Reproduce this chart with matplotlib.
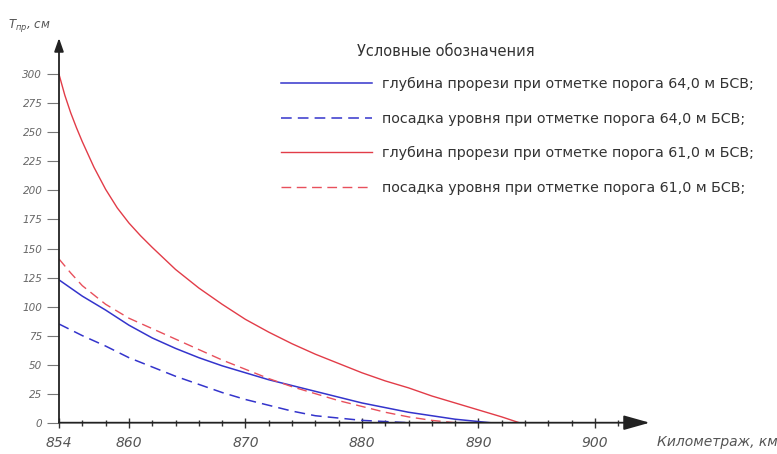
import matplotlib
matplotlib.use('Agg')
import matplotlib.pyplot as plt

plt.rcParams['font.family'] = ['DejaVu Sans']
plt.rcParams['mathtext.fontset'] = 'dejavusans'

# Depth of the cut / level drop along the river, cm
km_depth_64 = [854, 855, 856, 858, 860, 862, 864, 866, 868, 870, 872, 874, 876, 878, 880, 882, 884, 886, 888, 890, 891]
depth_64 = [123, 116, 109, 97, 84, 73, 64, 56, 49, 43, 37, 32, 27, 22, 17, 13, 9, 6, 3, 1, 0]

km_level_64 = [854, 855, 856, 858, 860, 862, 864, 866, 868, 870, 872, 874, 876, 878, 880, 882, 884]
level_64 = [85, 80, 75, 66, 56, 48, 40, 33, 26, 20, 15, 10, 6, 4, 2, 1, 0]

km_depth_61 = [854, 854.5, 855, 855.5, 856, 857, 858, 859, 860, 861, 862, 864, 866, 868, 870, 872, 874, 876, 878, 880, 882, 884, 886, 888, 890, 892, 893.5]
depth_61 = [300, 282, 267, 254, 242, 220, 201, 185, 172, 161, 151, 132, 116, 102, 89, 78, 68, 59, 51, 43, 36, 30, 23, 17, 11, 5, 0]

km_level_61 = [854, 855, 856, 858, 860, 862, 864, 866, 868, 870, 872, 874, 876, 878, 880, 882, 884, 886, 888]
level_61 = [141, 129, 118, 102, 90, 81, 72, 63, 54, 46, 38, 31, 25, 19, 14, 9, 5, 2, 0]

labels = [
    'глубина прорези при отметке порога 64,0 м БСВ;',
    'посадка уровня при отметке порога 64,0 м БСВ;',
    'глубина прорези при отметке порога 61,0 м БСВ;',
    'посадка уровня при отметке порога 61,0 м БСВ;',
]

x_ticks = [854, 860, 870, 880, 890, 900]
y_ticks = [0, 25, 50, 75, 100, 125, 150, 175, 200, 225, 250, 275, 300]

blue = '#3434cc'
red = '#e23c48'

fig = plt.figure(figsize=(7.77, 4.54), dpi=100)
ax = fig.add_axes([59 / 777, (454 - 422.7) / 454, (649.7 - 59) / 777, (422.7 - 38) / 454])
ax.set_xlim(854, 904.7)
ax.set_ylim(0, 331.3)
for s in ax.spines.values():
    s.set_visible(False)

ax.plot(km_depth_64, depth_64, color=blue, lw=1.1, label=labels[0])
ax.plot(km_level_64, level_64, color=blue, lw=1.1, dashes=(7, 4), label=labels[1])
ax.plot(km_depth_61, depth_61, color=red, lw=1.0, label=labels[2])
ax.plot(km_level_61, level_61, color='#e8505c', lw=1.0, dashes=(7, 4), label=labels[3])

# axes with arrows
ax.annotate('', xy=(904.7, 0), xytext=(854, 0), annotation_clip=False,
            arrowprops=dict(arrowstyle='-|>,head_length=1.6,head_width=0.45', color='#222222',
                            lw=1.3, shrinkA=0, shrinkB=0, mutation_scale=10))
ax.annotate('', xy=(854, 331.3), xytext=(854, 0), annotation_clip=False,
            arrowprops=dict(arrowstyle='-|>,head_length=0.8,head_width=0.28', color='#222222',
                            lw=1.3, shrinkA=0, shrinkB=0, mutation_scale=10))

ax.set_xticks(x_ticks)
ax.set_xticklabels([str(t) for t in x_ticks], fontstyle='italic', color='#555555', fontsize=10)
ax.set_xticks([t for t in range(856, 904, 2) if t not in x_ticks], minor=True)
ax.tick_params(axis='x', which='major', direction='inout', length=7, width=1, color='#333333', pad=6)
ax.tick_params(axis='x', which='minor', direction='inout', length=4, width=1, color='#333333')

ax.set_yticks(y_ticks)
ax.set_yticklabels([str(t) for t in y_ticks], fontstyle='italic', color='#666666', fontsize=7.5)
ax.tick_params(axis='y', which='major', direction='out', length=9, width=0.8, color='#777777', pad=3)

fig.text(8 / 777, 1 - 26 / 454, r'$\mathit{T}_{\mathit{пр}}$, см', fontsize=8.5, color='#555555',
         style='italic', va='center', ha='left')
fig.text(657 / 777, 1 - 442 / 454, 'Километраж, км', fontsize=10, color='#555555',
         style='italic', va='center', ha='left')

fig.text(357 / 777, 1 - 51 / 454, 'Условные обозначения', fontsize=10.5, color='#333333',
         va='center', ha='left')
ax.legend(loc='upper left', bbox_to_anchor=(281 / 777, 1 - 77 / 454), bbox_transform=fig.transFigure,
          frameon=False, fontsize=10.3, handlelength=6.35, handletextpad=0.7, labelspacing=1.43,
          borderpad=0, borderaxespad=0, labelcolor='#333333')

fig.savefig('out.png', dpi=100)
